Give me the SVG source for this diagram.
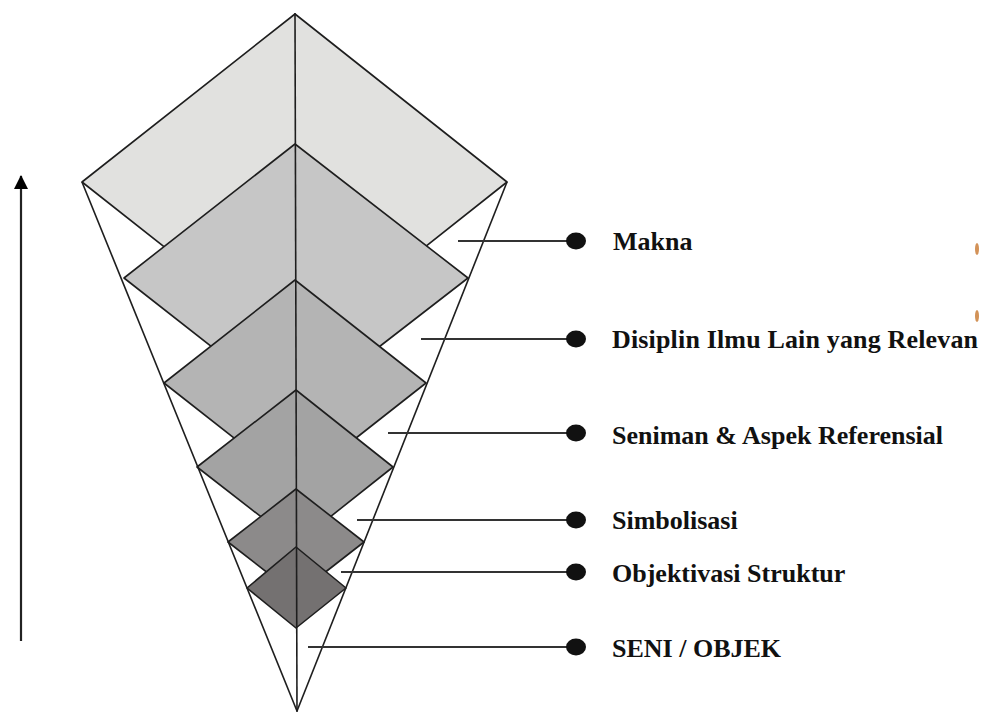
<svg xmlns="http://www.w3.org/2000/svg" width="982" height="715" viewBox="0 0 982 715">
<defs>
<style>
.d{stroke:#1e1e1e;stroke-width:1.6;stroke-linejoin:round}
.ln{stroke:#1e1e1e;stroke-width:1.6;fill:none}
.cn{stroke:#333;stroke-width:2.2;fill:none}
.dot{fill:#111}
.t{font-family:"Liberation Serif","Times New Roman",serif;font-weight:bold;font-size:26px;fill:#111}
</style>
<marker id="ah" markerWidth="14" markerHeight="14" refX="13" refY="7" orient="auto" markerUnits="userSpaceOnUse" viewBox="0 0 14 14">
<path d="M14,7 L0,0 L0,14 Z" fill="#000"/>
</marker>
</defs>
<rect width="982" height="715" fill="#fff"/>
<g id="layer-makna"><polygon class="d" fill="#e1e1df" points="295,14 507,182 295,350 82,182"/></g>
<g id="layer-disiplin"><polygon class="d" fill="#c6c6c6" points="295,144 468,278 295,412 124,278"/></g>
<g id="layer-seniman"><polygon class="d" fill="#b4b4b4" points="295,280 426,383 295,486 164,383"/></g>
<g id="layer-simbolisasi"><polygon class="d" fill="#a3a3a3" points="296,390 393,467 296,544 197,467"/></g>
<g id="layer-objektivasi"><polygon class="d" fill="#8c8a8a" points="296,489 364,542 296,595 228,542"/></g>
<g id="layer-seni"><polygon class="d" fill="#747171" points="296,547 346,588 296,628 247,588"/></g>
<g id="frame">
<line class="ln" x1="82" y1="182" x2="297" y2="711"/>
<line class="ln" x1="507" y1="182" x2="297" y2="711"/>
<line class="ln" x1="295" y1="13" x2="297" y2="712"/>
</g>
<g id="connectors">
<line class="cn" x1="458" y1="241" x2="576" y2="241"/>
<line class="cn" x1="421" y1="339" x2="576" y2="339"/>
<line class="cn" x1="388" y1="433" x2="576" y2="433"/>
<line class="cn" x1="357" y1="520" x2="576" y2="520"/>
<line class="cn" x1="341" y1="572" x2="576" y2="572"/>
<line class="cn" x1="308" y1="647" x2="576" y2="647"/>
<ellipse class="dot" cx="576" cy="241" rx="10" ry="8.5"/>
<ellipse class="dot" cx="576" cy="339" rx="10" ry="8.5"/>
<ellipse class="dot" cx="576" cy="433" rx="10" ry="8.5"/>
<ellipse class="dot" cx="576" cy="520" rx="10" ry="8.5"/>
<ellipse class="dot" cx="576" cy="572" rx="10" ry="8.5"/>
<ellipse class="dot" cx="576" cy="647" rx="10" ry="8.5"/>
<line x1="21" y1="641" x2="21" y2="176" stroke="#222" stroke-width="2.2" marker-end="url(#ah)"/>
</g>
<g id="labels">
<text class="t" x="613" y="250">Makna</text>
<text class="t" x="612" y="348" textLength="366" lengthAdjust="spacing">Disiplin Ilmu Lain yang Relevan</text>
<text class="t" x="612" y="444">Seniman &amp; Aspek Referensial</text>
<text class="t" x="612" y="529">Simbolisasi</text>
<text class="t" x="612" y="582">Objektivasi Struktur</text>
<text class="t" x="612" y="657">SENI / OBJEK</text>
</g>
<g id="marks" fill="#c8772e" opacity="0.8">
<ellipse cx="977" cy="249" rx="2" ry="6"/>
<ellipse cx="977" cy="316" rx="2" ry="6"/>
</g>
</svg>
